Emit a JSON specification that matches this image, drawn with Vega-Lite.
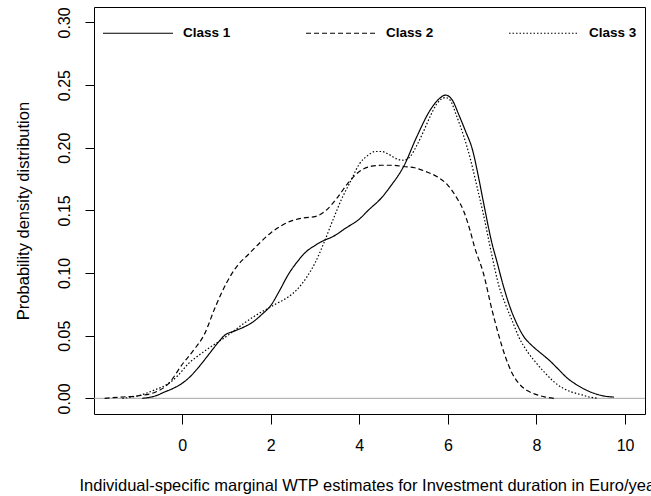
{
  "$schema": "https://vega.github.io/schema/vega-lite/v6.json",
  "width": 551,
  "height": 407,
  "autosize": {"type": "none"},
  "padding": {"left": 94, "top": 7, "right": 6, "bottom": 82},
  "background": "white",
  "config": {
    "view": {"stroke": "black", "strokeWidth": 1},
    "font": "Liberation Sans",
    "axis": {"grid": false, "domain": false, "tickColor": "black", "tickWidth": 1, "labelColor": "black", "titleColor": "black", "labelFont": "Liberation Sans", "titleFont": "Liberation Sans", "titleFontWeight": "normal"}
  },
  "datasets": {
    "curves": [
      {"x": -0.9, "y": 0.000, "cls": "Class 1"},
      {"x": -0.6, "y": 0.002, "cls": "Class 1"},
      {"x": -0.4, "y": 0.005, "cls": "Class 1"},
      {"x": -0.2, "y": 0.008, "cls": "Class 1"},
      {"x": 0.0, "y": 0.012, "cls": "Class 1"},
      {"x": 0.2, "y": 0.018, "cls": "Class 1"},
      {"x": 0.4, "y": 0.026, "cls": "Class 1"},
      {"x": 0.6, "y": 0.035, "cls": "Class 1"},
      {"x": 0.8, "y": 0.044, "cls": "Class 1"},
      {"x": 0.95, "y": 0.050, "cls": "Class 1"},
      {"x": 1.2, "y": 0.054, "cls": "Class 1"},
      {"x": 1.4, "y": 0.057, "cls": "Class 1"},
      {"x": 1.6, "y": 0.061, "cls": "Class 1"},
      {"x": 1.8, "y": 0.067, "cls": "Class 1"},
      {"x": 2.0, "y": 0.074, "cls": "Class 1"},
      {"x": 2.2, "y": 0.086, "cls": "Class 1"},
      {"x": 2.4, "y": 0.099, "cls": "Class 1"},
      {"x": 2.6, "y": 0.109, "cls": "Class 1"},
      {"x": 2.8, "y": 0.117, "cls": "Class 1"},
      {"x": 3.0, "y": 0.122, "cls": "Class 1"},
      {"x": 3.2, "y": 0.126, "cls": "Class 1"},
      {"x": 3.4, "y": 0.129, "cls": "Class 1"},
      {"x": 3.7, "y": 0.136, "cls": "Class 1"},
      {"x": 4.0, "y": 0.143, "cls": "Class 1"},
      {"x": 4.2, "y": 0.150, "cls": "Class 1"},
      {"x": 4.5, "y": 0.160, "cls": "Class 1"},
      {"x": 4.7, "y": 0.169, "cls": "Class 1"},
      {"x": 5.0, "y": 0.185, "cls": "Class 1"},
      {"x": 5.3, "y": 0.209, "cls": "Class 1"},
      {"x": 5.6, "y": 0.230, "cls": "Class 1"},
      {"x": 5.8, "y": 0.239, "cls": "Class 1"},
      {"x": 5.95, "y": 0.242, "cls": "Class 1"},
      {"x": 6.1, "y": 0.238, "cls": "Class 1"},
      {"x": 6.25, "y": 0.226, "cls": "Class 1"},
      {"x": 6.4, "y": 0.213, "cls": "Class 1"},
      {"x": 6.55, "y": 0.199, "cls": "Class 1"},
      {"x": 6.7, "y": 0.175, "cls": "Class 1"},
      {"x": 6.8, "y": 0.157, "cls": "Class 1"},
      {"x": 7.0, "y": 0.123, "cls": "Class 1"},
      {"x": 7.1, "y": 0.110, "cls": "Class 1"},
      {"x": 7.25, "y": 0.090, "cls": "Class 1"},
      {"x": 7.4, "y": 0.073, "cls": "Class 1"},
      {"x": 7.55, "y": 0.060, "cls": "Class 1"},
      {"x": 7.7, "y": 0.050, "cls": "Class 1"},
      {"x": 7.9, "y": 0.042, "cls": "Class 1"},
      {"x": 8.1, "y": 0.036, "cls": "Class 1"},
      {"x": 8.3, "y": 0.030, "cls": "Class 1"},
      {"x": 8.5, "y": 0.023, "cls": "Class 1"},
      {"x": 8.7, "y": 0.016, "cls": "Class 1"},
      {"x": 8.9, "y": 0.011, "cls": "Class 1"},
      {"x": 9.1, "y": 0.007, "cls": "Class 1"},
      {"x": 9.3, "y": 0.004, "cls": "Class 1"},
      {"x": 9.5, "y": 0.002, "cls": "Class 1"},
      {"x": 9.75, "y": 0.001, "cls": "Class 1"},
      {"x": -1.75, "y": 0.000, "cls": "Class 2"},
      {"x": -1.4, "y": 0.001, "cls": "Class 2"},
      {"x": -1.0, "y": 0.002, "cls": "Class 2"},
      {"x": -0.6, "y": 0.005, "cls": "Class 2"},
      {"x": -0.3, "y": 0.012, "cls": "Class 2"},
      {"x": 0.0, "y": 0.027, "cls": "Class 2"},
      {"x": 0.25, "y": 0.038, "cls": "Class 2"},
      {"x": 0.5, "y": 0.051, "cls": "Class 2"},
      {"x": 0.75, "y": 0.073, "cls": "Class 2"},
      {"x": 1.0, "y": 0.092, "cls": "Class 2"},
      {"x": 1.25, "y": 0.106, "cls": "Class 2"},
      {"x": 1.5, "y": 0.115, "cls": "Class 2"},
      {"x": 1.75, "y": 0.124, "cls": "Class 2"},
      {"x": 2.0, "y": 0.132, "cls": "Class 2"},
      {"x": 2.25, "y": 0.138, "cls": "Class 2"},
      {"x": 2.5, "y": 0.142, "cls": "Class 2"},
      {"x": 2.75, "y": 0.144, "cls": "Class 2"},
      {"x": 3.0, "y": 0.145, "cls": "Class 2"},
      {"x": 3.25, "y": 0.150, "cls": "Class 2"},
      {"x": 3.5, "y": 0.160, "cls": "Class 2"},
      {"x": 3.75, "y": 0.172, "cls": "Class 2"},
      {"x": 4.0, "y": 0.181, "cls": "Class 2"},
      {"x": 4.25, "y": 0.185, "cls": "Class 2"},
      {"x": 4.5, "y": 0.186, "cls": "Class 2"},
      {"x": 4.75, "y": 0.186, "cls": "Class 2"},
      {"x": 5.0, "y": 0.185, "cls": "Class 2"},
      {"x": 5.25, "y": 0.184, "cls": "Class 2"},
      {"x": 5.5, "y": 0.181, "cls": "Class 2"},
      {"x": 5.75, "y": 0.177, "cls": "Class 2"},
      {"x": 6.0, "y": 0.170, "cls": "Class 2"},
      {"x": 6.2, "y": 0.160, "cls": "Class 2"},
      {"x": 6.35, "y": 0.150, "cls": "Class 2"},
      {"x": 6.5, "y": 0.134, "cls": "Class 2"},
      {"x": 6.6, "y": 0.121, "cls": "Class 2"},
      {"x": 6.8, "y": 0.100, "cls": "Class 2"},
      {"x": 7.0, "y": 0.070, "cls": "Class 2"},
      {"x": 7.15, "y": 0.050, "cls": "Class 2"},
      {"x": 7.3, "y": 0.033, "cls": "Class 2"},
      {"x": 7.45, "y": 0.020, "cls": "Class 2"},
      {"x": 7.6, "y": 0.012, "cls": "Class 2"},
      {"x": 7.8, "y": 0.006, "cls": "Class 2"},
      {"x": 8.0, "y": 0.003, "cls": "Class 2"},
      {"x": 8.2, "y": 0.001, "cls": "Class 2"},
      {"x": 8.4, "y": 0.000, "cls": "Class 2"},
      {"x": -1.35, "y": 0.000, "cls": "Class 3"},
      {"x": -1.0, "y": 0.002, "cls": "Class 3"},
      {"x": -0.6, "y": 0.007, "cls": "Class 3"},
      {"x": -0.3, "y": 0.012, "cls": "Class 3"},
      {"x": -0.1, "y": 0.018, "cls": "Class 3"},
      {"x": 0.15, "y": 0.028, "cls": "Class 3"},
      {"x": 0.4, "y": 0.035, "cls": "Class 3"},
      {"x": 0.6, "y": 0.040, "cls": "Class 3"},
      {"x": 0.9, "y": 0.047, "cls": "Class 3"},
      {"x": 1.1, "y": 0.052, "cls": "Class 3"},
      {"x": 1.4, "y": 0.060, "cls": "Class 3"},
      {"x": 1.7, "y": 0.067, "cls": "Class 3"},
      {"x": 1.9, "y": 0.071, "cls": "Class 3"},
      {"x": 2.1, "y": 0.075, "cls": "Class 3"},
      {"x": 2.4, "y": 0.081, "cls": "Class 3"},
      {"x": 2.6, "y": 0.087, "cls": "Class 3"},
      {"x": 2.8, "y": 0.096, "cls": "Class 3"},
      {"x": 3.0, "y": 0.108, "cls": "Class 3"},
      {"x": 3.2, "y": 0.124, "cls": "Class 3"},
      {"x": 3.4, "y": 0.142, "cls": "Class 3"},
      {"x": 3.6, "y": 0.159, "cls": "Class 3"},
      {"x": 3.8, "y": 0.173, "cls": "Class 3"},
      {"x": 4.0, "y": 0.187, "cls": "Class 3"},
      {"x": 4.2, "y": 0.194, "cls": "Class 3"},
      {"x": 4.35, "y": 0.197, "cls": "Class 3"},
      {"x": 4.5, "y": 0.197, "cls": "Class 3"},
      {"x": 4.65, "y": 0.195, "cls": "Class 3"},
      {"x": 4.85, "y": 0.191, "cls": "Class 3"},
      {"x": 5.0, "y": 0.190, "cls": "Class 3"},
      {"x": 5.15, "y": 0.193, "cls": "Class 3"},
      {"x": 5.3, "y": 0.202, "cls": "Class 3"},
      {"x": 5.45, "y": 0.213, "cls": "Class 3"},
      {"x": 5.6, "y": 0.225, "cls": "Class 3"},
      {"x": 5.75, "y": 0.235, "cls": "Class 3"},
      {"x": 5.95, "y": 0.240, "cls": "Class 3"},
      {"x": 6.05, "y": 0.238, "cls": "Class 3"},
      {"x": 6.2, "y": 0.225, "cls": "Class 3"},
      {"x": 6.35, "y": 0.210, "cls": "Class 3"},
      {"x": 6.5, "y": 0.192, "cls": "Class 3"},
      {"x": 6.65, "y": 0.170, "cls": "Class 3"},
      {"x": 6.8, "y": 0.147, "cls": "Class 3"},
      {"x": 7.0, "y": 0.113, "cls": "Class 3"},
      {"x": 7.15, "y": 0.090, "cls": "Class 3"},
      {"x": 7.3, "y": 0.075, "cls": "Class 3"},
      {"x": 7.45, "y": 0.062, "cls": "Class 3"},
      {"x": 7.6, "y": 0.049, "cls": "Class 3"},
      {"x": 7.8, "y": 0.037, "cls": "Class 3"},
      {"x": 8.0, "y": 0.028, "cls": "Class 3"},
      {"x": 8.2, "y": 0.020, "cls": "Class 3"},
      {"x": 8.4, "y": 0.013, "cls": "Class 3"},
      {"x": 8.6, "y": 0.008, "cls": "Class 3"},
      {"x": 8.8, "y": 0.005, "cls": "Class 3"},
      {"x": 9.0, "y": 0.003, "cls": "Class 3"},
      {"x": 9.2, "y": 0.001, "cls": "Class 3"},
      {"x": 9.4, "y": 0.000, "cls": "Class 3"}
    ],
    "baseline": [{"y": 0}]
  },
  "layer": [
    {
      "data": {"name": "baseline"},
      "mark": {"type": "rule", "color": "#a6a6a6", "strokeWidth": 1},
      "encoding": {
        "y": {"field": "y", "type": "quantitative", "scale": {"domain": [-0.0125, 0.3123], "nice": false, "zero": false}}
      }
    },
    {
      "data": {"name": "curves"},
      "mark": {"type": "line", "color": "black", "strokeWidth": 1.2, "interpolate": "monotone", "clip": true},
      "encoding": {
        "x": {
          "field": "x", "type": "quantitative",
          "scale": {"domain": [-1.99, 10.45], "nice": false, "zero": false},
          "axis": {"values": [0, 2, 4, 6, 8, 10], "format": "d", "tickSize": 10, "labelPadding": 13, "labelFontSize": 16, "titleFontSize": 16.5, "titlePadding": 24,
                   "title": "Individual-specific marginal WTP estimates for Investment duration in Euro/year"}
        },
        "y": {
          "field": "y", "type": "quantitative",
          "scale": {"domain": [-0.0125, 0.3123], "nice": false, "zero": false},
          "axis": {"values": [0, 0.05, 0.1, 0.15, 0.2, 0.25, 0.3], "format": ".2f", "tickSize": 9, "labelPadding": 16, "labelFontSize": 16, "labelAngle": -90, "labelAlign": "center", "labelBaseline": "alphabetic", "titleFontSize": 16.5, "titlePadding": 25,
                   "title": "Probability density distribution"}
        },
        "strokeDash": {
          "field": "cls", "type": "nominal",
          "scale": {"domain": ["Class 1", "Class 2", "Class 3"], "range": [[1, 0], [5, 3], [1.5, 2]]},
          "legend": {
            "title": null, "orient": "none", "direction": "horizontal", "legendX": 8, "legendY": -10,
            "padding": 0, "symbolType": "stroke", "symbolSize": 4900, "symbolStrokeWidth": 1.2, "symbolStrokeColor": "black",
            "labelFont": "Liberation Sans", "labelFontSize": 13.5, "labelFontWeight": "bold", "labelColor": "black", "labelOffset": 9, "columnPadding": 72
          }
        }
      }
    }
  ]
}
